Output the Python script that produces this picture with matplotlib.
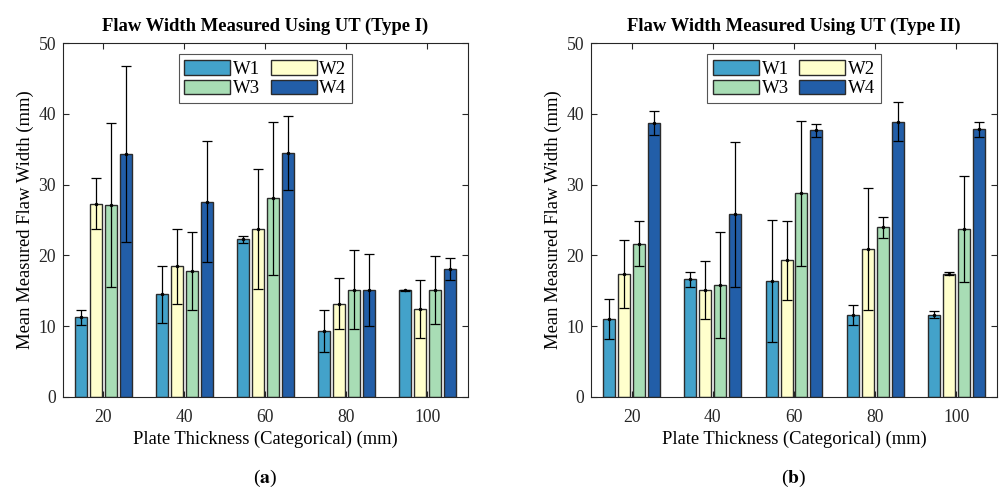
import numpy as np
import matplotlib
matplotlib.use("Agg")
from matplotlib import pyplot as plt

plt.rcParams['font.family'] = ['Liberation Serif', 'DejaVu Serif']
plt.rcParams['mathtext.fontset'] = 'stix'

# kategoriler
thickness = ['20', '40', '60', '80', '100']
series = ['W1', 'W2', 'W3', 'W4']
colors = ['#43A2CA', '#FFFFCC', '#A8DDB5', '#225EA8']

# Type I : ortalama ve hata
mean_a = [
    [11.25, 14.5, 22.3, 9.3, 15.05],     # W1
    [27.3, 18.45, 23.7, 13.2, 12.4],     # W2
    [27.1, 17.8, 28.05, 15.15, 15.05],   # W3
    [34.3, 27.6, 34.5, 15.15, 18.1],     # W4
]
err_a = [
    [1.1, 4.0, 0.5, 2.95, 0.1],
    [3.6, 5.35, 8.5, 3.6, 4.1],
    [11.6, 5.45, 10.85, 5.55, 4.8],
    [12.4, 8.6, 5.2, 5.1, 1.6],
]

# Type II : ortalama ve hata
mean_b = [
    [11.0, 16.6, 16.4, 11.55, 11.6],
    [17.4, 15.1, 19.3, 20.9, 17.4],
    [21.65, 15.85, 28.75, 23.95, 23.7],
    [38.7, 25.8, 37.65, 38.9, 37.8],
]
err_b = [
    [2.8, 1.1, 8.6, 1.45, 0.5],
    [4.8, 4.05, 5.6, 8.65, 0.2],
    [3.2, 7.5, 10.3, 1.5, 7.5],
    [1.75, 10.2, 0.9, 2.8, 1.0],
]

titles = ['Flaw Width Measured Using UT (Type I)', 'Flaw Width Measured Using UT (Type II)']
panel_labels = [r'($\mathbf{a}$)', r'($\mathbf{b}$)']

fig = plt.figure(figsize=(10.01, 4.95), dpi=100)
axes = [fig.add_axes([0.0629, 0.198, 0.4046, 0.715]),
        fig.add_axes([0.5904, 0.198, 0.4056, 0.715])]

x = np.arange(1, len(thickness) + 1)
pitch = 0.184
width = 0.148

for ax, means, errs, title, lab in zip(axes, [mean_a, mean_b], [err_a, err_b], titles, panel_labels):
    bars = []
    for k in range(len(series)):
        pos = x + (k - 1.5) * pitch
        b = ax.bar(pos, means[k], width=width, color=colors[k], edgecolor='#2b2b2b',
                   linewidth=1.0, label=series[k], zorder=2)
        bars.append(b)
        ax.errorbar(pos, means[k], yerr=errs[k], fmt='.', color='black', ms=3,
                    elinewidth=0.9, capsize=3.5, capthick=0.9, zorder=3)
    ax.set_xlim(0.5, 5.5)
    ax.set_ylim(0, 50)
    ax.set_xticks(x)
    ax.set_xticklabels(thickness)
    ax.set_yticks([0, 10, 20, 30, 40, 50])
    ax.tick_params(direction='in', top=True, right=True, labelsize=12.7,
                   colors='#262626', length=4, width=0.8)
    ax.tick_params(axis='x', pad=9)
    ax.tick_params(axis='y', pad=5)
    for s in ax.spines.values():
        s.set_color('#262626')
        s.set_linewidth(0.8)
    ax.set_title(title, fontsize=13.4, fontweight='bold', pad=9)
    ax.set_xlabel('Plate Thickness (Categorical) (mm)', fontsize=13.3, labelpad=3)
    ax.set_ylabel('Mean Measured Flaw Width (mm)', fontsize=13.4, labelpad=3)
    # satir satir sirala: W1 W2 / W3 W4
    order = [0, 2, 1, 3]
    leg = ax.legend([bars[i] for i in order], [series[i] for i in order],
                    loc='upper center', ncol=2, fontsize=13.5, fancybox=False,
                    edgecolor='#555555', framealpha=1, handlelength=2.45,
                    handleheight=0.85, columnspacing=0.55, handletextpad=0.15,
                    labelspacing=0.1, borderpad=0.3, borderaxespad=0,
                    bbox_to_anchor=(0.5, 0.969))
    leg.get_frame().set_linewidth(0.8)
    bb = ax.get_position()
    fig.text(bb.x0 + bb.width / 2, 0.034, lab, ha='center', va='center', fontsize=14)

fig.savefig('out.png', dpi=100)
